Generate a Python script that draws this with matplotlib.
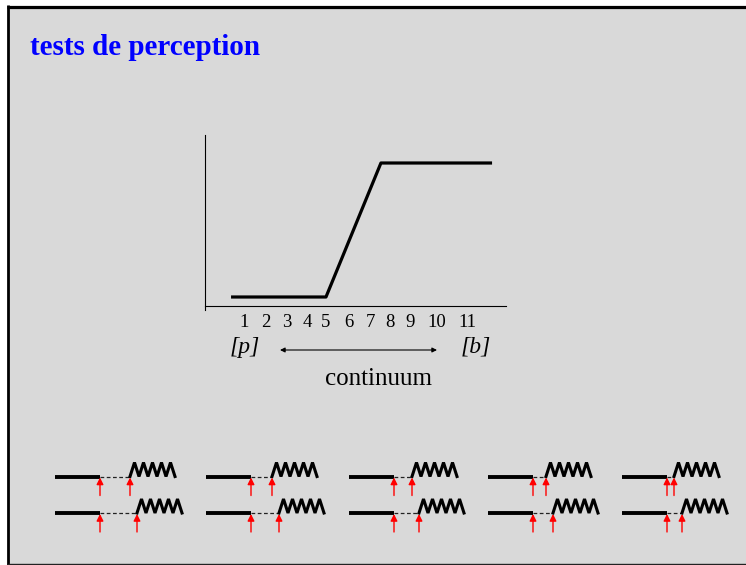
import numpy as np
import matplotlib.pyplot as plt

plt.rcParams['font.family'] = ['Liberation Serif', 'DejaVu Serif']

# identification curve along the [p]-[b] continuum
stim_labels = ['1', '2', '3', '4', '5', '6', '7', '8', '9', '10', '11']
stim_pos = [1, 2.07, 3.1, 4.07, 5, 6.12, 7.15, 8.12, 9.1, 10.41, 11.88]
curve_x = [0.37, 5.0, 7.68, 13.1]
curve_y = [0.0, 0.0, 1.0, 1.0]

# silence gap before voicing (px) for the stimulus pairs, top row / bottom row
gap_top = [30, 21, 18, 13, 7]
gap_bot = [37, 28, 25, 20, 15]

W, H = 746, 565
fig = plt.figure(figsize=(W / 100, H / 100), dpi=100)
fig.patch.set_facecolor('white')

bg = fig.add_axes([0, 0, 1, 1])
bg.set_xlim(0, W)
bg.set_ylim(H, 0)
bg.axis('off')
bg.add_patch(plt.Rectangle((8, 6), W - 8, 557.5, facecolor='#d9d9d9', edgecolor='none'))
bg.plot([8, 8], [5, H], color='black', lw=2.0, solid_capstyle='butt')
bg.plot([7, W], [6.5, 6.5], color='black', lw=2.3, solid_capstyle='butt')
bg.plot([7, W], [563.5, 563.5], color='#222222', lw=1.0, solid_capstyle='butt')

bg.text(30, 55, 'tests de perception', color='#0000ff', fontsize=21,
        fontweight='bold', va='baseline', ha='left')

# main chart
ax = fig.add_axes([205 / W, (H - 310) / H, 301 / W, 175 / H])
ax.set_facecolor('none')
ax.plot(curve_x, curve_y, color='black', lw=2.3, solid_capstyle='butt')
ax.set_xlim(-0.9, 13.78)
ax.set_ylim(-0.097, 1.209)
for s in ['top', 'right']:
    ax.spines[s].set_visible(False)
ax.spines['left'].set_linewidth(0.8)
ax.spines['bottom'].set_linewidth(0.8)
ax.spines['bottom'].set_position(('data', -0.067))
ax.set_yticks([])
ax.set_xticks(stim_pos)
ax.set_xticklabels(stim_labels, fontsize=13.5)
ax.tick_params(axis='x', length=0, pad=6)

bg.text(245, 353, '[p]', fontsize=17, style='italic', ha='center', va='baseline')
bg.text(476, 353, '[b]', fontsize=17, style='italic', ha='center', va='baseline')
bg.annotate('', xy=(437, 350), xytext=(280, 350),
            arrowprops=dict(arrowstyle='<|-|>', color='black', lw=0.8,
                            mutation_scale=7, shrinkA=0, shrinkB=0))
bg.text(378, 385, 'continuum', fontsize=18, ha='center', va='baseline')

# stimulus schematics: silence, gap, voicing
col_left = [55, 206, 349, 488, 622]
row_y = [476.5, 513]
seg_len = 45
zig_amp = 14
n_teeth = 5


def draw_stim(x0, y0, gap):
    x1 = x0 + seg_len
    x2 = x1 + gap
    bg.plot([x0, x1], [y0, y0], color='black', lw=2.8, solid_capstyle='butt')
    bg.plot([x1, x2], [y0, y0], color='#222222', lw=0.9, dashes=(3, 2))
    step = seg_len / n_teeth
    zx = [x2]
    zy = [y0]
    for k in range(n_teeth):
        zx += [x2 + step * (k + 0.5), x2 + step * (k + 1)]
        zy += [y0 - zig_amp, y0]
    bg.plot(zx, zy, color='black', lw=2.2, solid_joinstyle='miter')
    for xa in (x1, x2):
        bg.annotate('', xy=(xa, y0 + 1), xytext=(xa, y0 + 19),
                    arrowprops=dict(arrowstyle='-|>', color='red', lw=1.0,
                                    mutation_scale=10, shrinkA=0, shrinkB=0))


for i, x0 in enumerate(col_left):
    draw_stim(x0, row_y[0], gap_top[i])
    draw_stim(x0, row_y[1], gap_bot[i])

fig.savefig('out.png', dpi=100)
